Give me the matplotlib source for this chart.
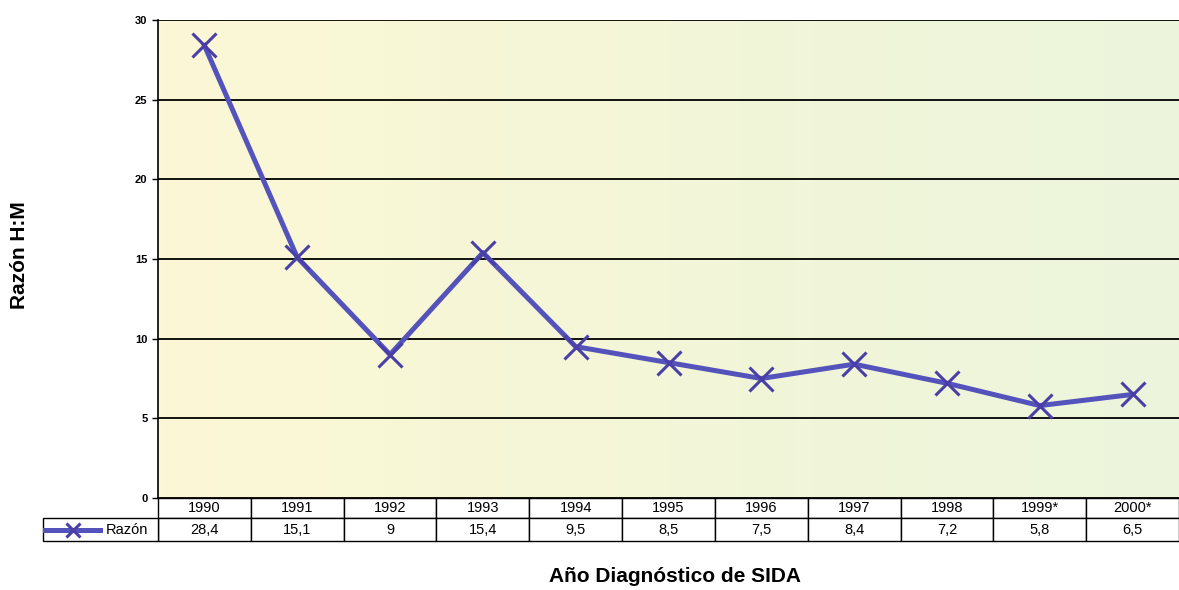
import numpy as np
import matplotlib.pyplot as plt
from matplotlib.colors import LinearSegmentedColormap
from matplotlib.patches import Rectangle

plt.rcParams['font.family'] = ['Liberation Sans', 'DejaVu Sans']

# Razón hombre:mujer por año de diagnóstico
years = ["1990", "1991", "1992", "1993", "1994", "1995", "1996", "1997", "1998", "1999*", "2000*"]
razon = [28.4, 15.1, 9, 15.4, 9.5, 8.5, 7.5, 8.4, 7.2, 5.8, 6.5]
razon_labels = ["28,4", "15,1", "9", "15,4", "9,5", "8,5", "7,5", "8,4", "7,2", "5,8", "6,5"]

line_color = "#5353bb"
marker_color = "#4a3fa6"

W, H = 1179, 590
fig = plt.figure(figsize=(W / 100, H / 100), dpi=100)
ax_w, ax_h = 1021, 478
ax = fig.add_axes([158 / W, 92 / H, ax_w / W, ax_h / H])

n = len(years)
x = np.arange(n)
ax.set_xlim(-0.5, n - 0.5)
ax.set_ylim(0, 30)

# fondo degradado amarillo -> verde
bg = LinearSegmentedColormap.from_list("bg", ["#fcf8d6", "#f3f6d8", "#ecf5dc"])
ax.imshow(np.linspace(0, 1, 256).reshape(1, -1), cmap=bg, aspect="auto",
          extent=(-0.5, n - 0.5, 0, 30), zorder=0)

for v in range(5, 31, 5):
    ax.axhline(v, color="black", lw=1.3, zorder=1)

ax.plot(x, razon, color=line_color, lw=3.6, zorder=3)
ax.plot(x, razon, ls="none", marker="x", ms=17, mew=2.2, color=marker_color, zorder=4)

ax.set_xticks([])
ax.set_yticks(range(0, 31, 5))
ax.tick_params(axis="y", length=4, width=1, labelsize=8)
for t in ax.get_yticklabels():
    t.set_fontweight("bold")
for s in ["top", "right"]:
    ax.spines[s].set_visible(False)
ax.spines["left"].set_linewidth(1.2)
ax.spines["bottom"].set_linewidth(1.3)

# tabla de datos bajo el eje (coordenadas del eje)
tr = ax.transAxes
row1_h = 20 / ax_h
row2_h = 23 / ax_h
lab_w = 115 / ax_w
cw = 1 / n


def cell(x0, y0, w, h):
    ax.add_patch(Rectangle((x0, y0), w, h, transform=tr, clip_on=False,
                           facecolor="white", edgecolor="black", lw=1, zorder=2))


for i in range(n):
    cell(i * cw, -row1_h, cw, row1_h)
    ax.text((i + 0.5) * cw, -row1_h / 2, years[i], transform=tr,
            ha="center", va="center", fontsize=10.5)
    cell(i * cw, -row1_h - row2_h, cw, row2_h)
    ax.text((i + 0.5) * cw, -row1_h - row2_h / 2, razon_labels[i], transform=tr,
            ha="center", va="center", fontsize=10.5)

cell(-lab_w, -row1_h - row2_h, lab_w, row2_h)
ky = -row1_h - row2_h / 2
ax.text(-10 / ax_w, ky, "Razón", transform=tr, ha="right", va="center", fontsize=10.5)

# clave de la leyenda
ax.plot([(45 - 158) / ax_w, (100 - 158) / ax_w], [ky, ky], transform=tr,
        color=line_color, lw=3.6, clip_on=False, zorder=3)
ax.plot([(73 - 158) / ax_w], [ky], transform=tr, marker="x", ms=10, mew=2.2,
        color=marker_color, clip_on=False, zorder=4)

fig.text(20 / W, 1 - 255 / H, "Razón H:M", rotation=90, ha="center", va="center",
         fontsize=15, fontweight="bold")
fig.text(675 / W, 1 - 577 / H, "Año Diagnóstico de SIDA", ha="center", va="center",
         fontsize=15, fontweight="bold")

fig.savefig("out.png", dpi=100, facecolor="white")
